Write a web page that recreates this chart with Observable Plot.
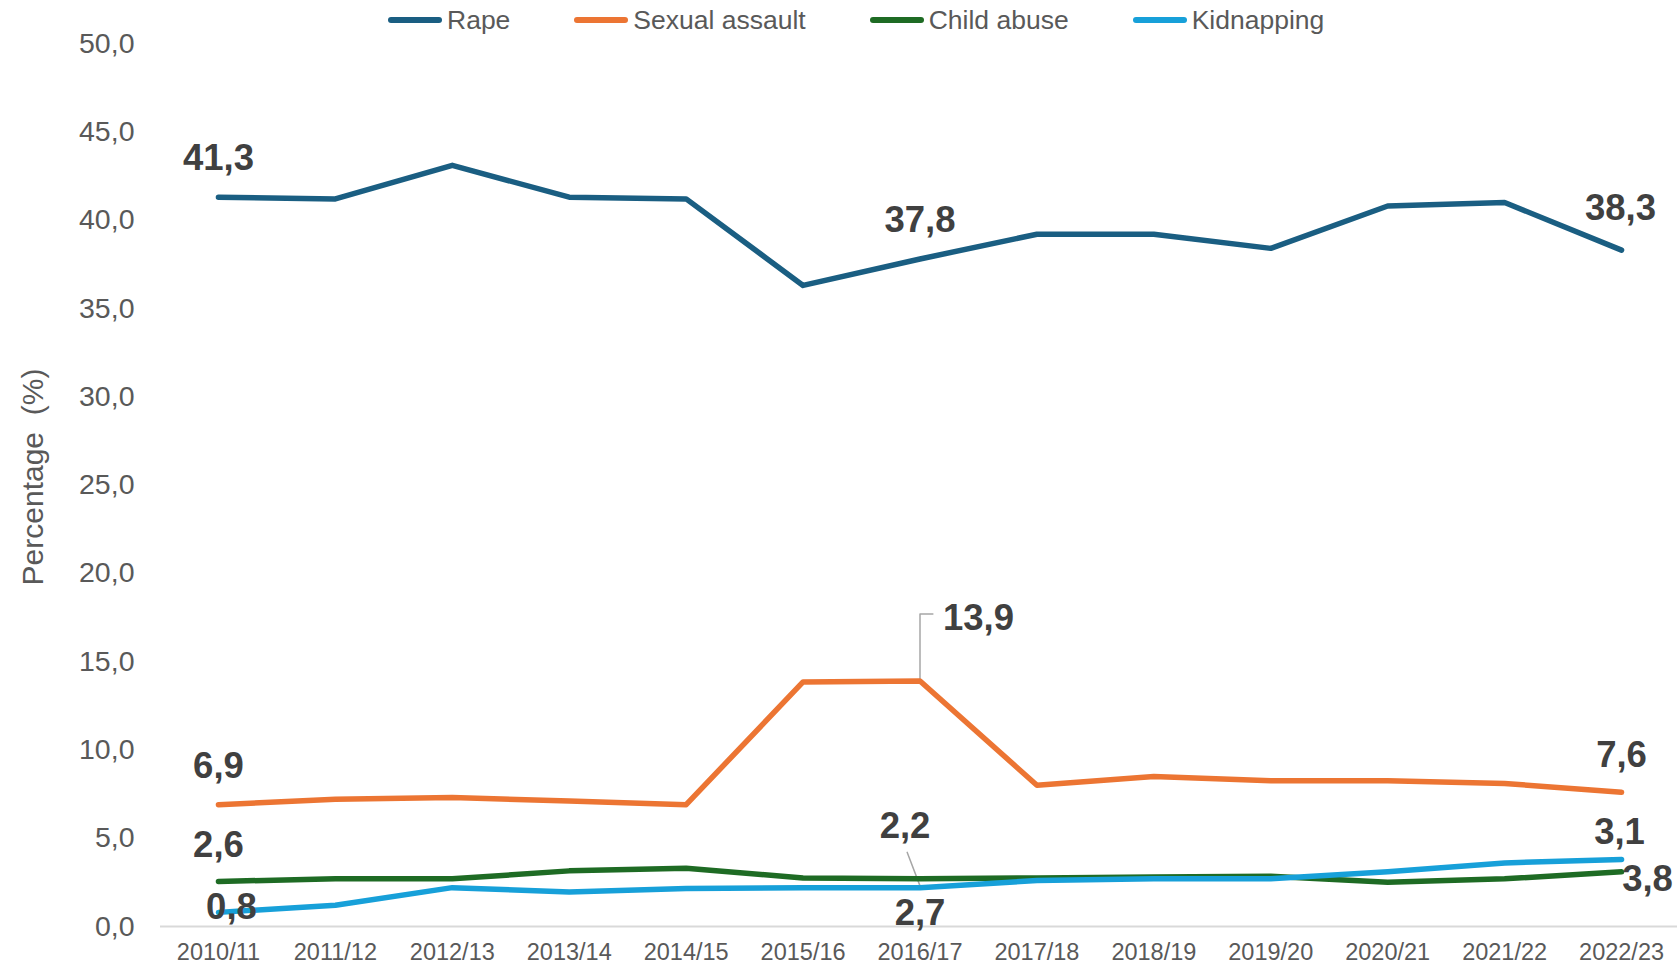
<!DOCTYPE html>
<html><head><meta charset="utf-8">
<script src="https://cdn.jsdelivr.net/npm/d3@7"></script>
<script src="https://cdn.jsdelivr.net/npm/@observablehq/plot@0.6"></script>
<style>
body{margin:0;background:#fff;font-family:"Liberation Sans",Arial,sans-serif;}
#legend{height:30px;display:flex;align-items:center;padding-left:388px;color:#595959;font-size:26.5px;position:relative;top:5px;z-index:2;}
.item{display:flex;align-items:center;margin-right:64px;}
.sw{width:54px;height:6px;border-radius:3px;margin-right:5px;}
</style></head><body>
<div id="legend"></div><div id="chart"></div>
<script>
const years = ["2010/11","2011/12","2012/13","2013/14","2014/15","2015/16","2016/17","2017/18","2018/19","2019/20","2020/21","2021/22","2022/23"];
const rape =          [41.3, 41.2, 43.1, 41.3, 41.2, 36.3, 37.8, 39.2, 39.2, 38.4, 40.8, 41.0, 38.3];
const sexualAssault = [6.9, 7.2, 7.3, 7.1, 6.9, 13.85, 13.9, 8.0, 8.5, 8.25, 8.25, 8.1, 7.6];
const childAbuse =    [2.55, 2.7, 2.7, 3.15, 3.3, 2.75, 2.7, 2.75, 2.8, 2.85, 2.5, 2.7, 3.1];
const kidnapping =    [0.8, 1.2, 2.2, 1.95, 2.15, 2.2, 2.2, 2.6, 2.7, 2.7, 3.1, 3.6, 3.8];
const seriesNames = ["Rape","Sexual assault","Child abuse","Kidnapping"];
const seriesColors = ["#1A5E82","#EC7533","#1E6B24","#17A0D9"];
const seriesValues = [rape, sexualAssault, childAbuse, kidnapping];

// data labels as shown in the source (text, series it sits by, year)
const labels = [
  {series:"Rape", year:"2010/11", text:"41,3"},
  {series:"Rape", year:"2016/17", text:"37,8"},
  {series:"Rape", year:"2022/23", text:"38,3"},
  {series:"Sexual assault", year:"2010/11", text:"6,9"},
  {series:"Sexual assault", year:"2016/17", text:"13,9"},
  {series:"Sexual assault", year:"2022/23", text:"7,6"},
  {series:"Child abuse", year:"2010/11", text:"2,6"},
  {series:"Kidnapping", year:"2010/11", text:"0,8"},
  {series:"Kidnapping", year:"2016/17", text:"2,2"},
  {series:"Child abuse", year:"2016/17", text:"2,7"},
  {series:"Kidnapping", year:"2022/23", text:"3,1"},
  {series:"Child abuse", year:"2022/23", text:"3,8"}
];
const labelStyle = [
  {dx:0, dy:-39}, {dx:0, dy:-39}, {dx:-1, dy:-42},
  {dx:0, dy:-38}, {dx:23, dy:-63, anchor:"start"}, {dx:0, dy:-37},
  {dx:0, dy:-36}, {dx:13, dy:-5}, {dx:-15, dy:-61},
  {dx:0, dy:34}, {dx:-2, dy:-27}, {dx:26, dy:8}
];
// leader lines (year index, value)
const leaders = [
  [{i:6, v:13.9}, {i:6, v:17.7}, {i:6.11, v:17.7}],
  [{i:5.89, v:4.2}, {i:6, v:2.3}]
];

const rows = [];
seriesNames.forEach((s, k) => seriesValues[k].forEach((v, i) => rows.push({series:s, i, year:years[i], value:v})));

const legend = document.getElementById("legend");
seriesNames.forEach((s, k) => {
  const it = document.createElement("div"); it.className = "item";
  it.innerHTML = `<span class="sw" style="background:${seriesColors[k]}"></span><span>${s}</span>`;
  legend.appendChild(it);
});

const fmt = d => d.toFixed(1).replace(".", ",");
const labelMarks = labels.map((l, j) => {
  const k = seriesNames.indexOf(l.series), i = years.indexOf(l.year);
  return Plot.text([{i, v: seriesValues[k][i], t: l.text}], {
    x: "i", y: "v", text: "t", dx: labelStyle[j].dx, dy: labelStyle[j].dy,
    textAnchor: labelStyle[j].anchor || "middle",
    fontSize: 36.5, fontWeight: "bold", fill: "#404040"
  });
});

const chart = Plot.plot({
  width: 1677, height: 939,
  marginTop: 13, marginBottom: 43, marginLeft: 160, marginRight: 0,
  style: {fontFamily: '"Liberation Sans", Arial, sans-serif', overflow: "visible", background: "#fff"},
  x: {domain: [-0.5, 12.5], range: [159.5, 1679.5]},
  y: {domain: [0, 50]},
  color: {domain: seriesNames, range: seriesColors},
  marks: [
    Plot.axisY({ticks: d3.range(0, 50.1, 5), tickFormat: fmt, tickSize: 0, tickPadding: 26, fontSize: 28.5, color: "#595959", label: null}),
    Plot.axisX({ticks: d3.range(0, 13), tickFormat: i => years[i], tickSize: 0, tickPadding: 17, fontSize: 23.5, color: "#595959", label: null}),
    Plot.ruleY([0], {stroke: "#d9d9d9", strokeWidth: 2}),
    Plot.text(["Percentage  (%)"], {text: d => d, frameAnchor: "left", textAnchor: "middle", rotate: -90, dx: -127, dy: -8, fontSize: 30, fill: "#595959"}),
    ...leaders.map(L => Plot.line(L, {x: "i", y: "v", stroke: "#a6a6a6", strokeWidth: 1.5})),
    Plot.line(rows, {x: "i", y: "value", z: "series", stroke: "series", strokeWidth: 5.5, strokeLinejoin: "round", strokeLinecap: "round"}),
    ...labelMarks
  ]
});
document.getElementById("chart").appendChild(chart);
</script>
</body></html>
